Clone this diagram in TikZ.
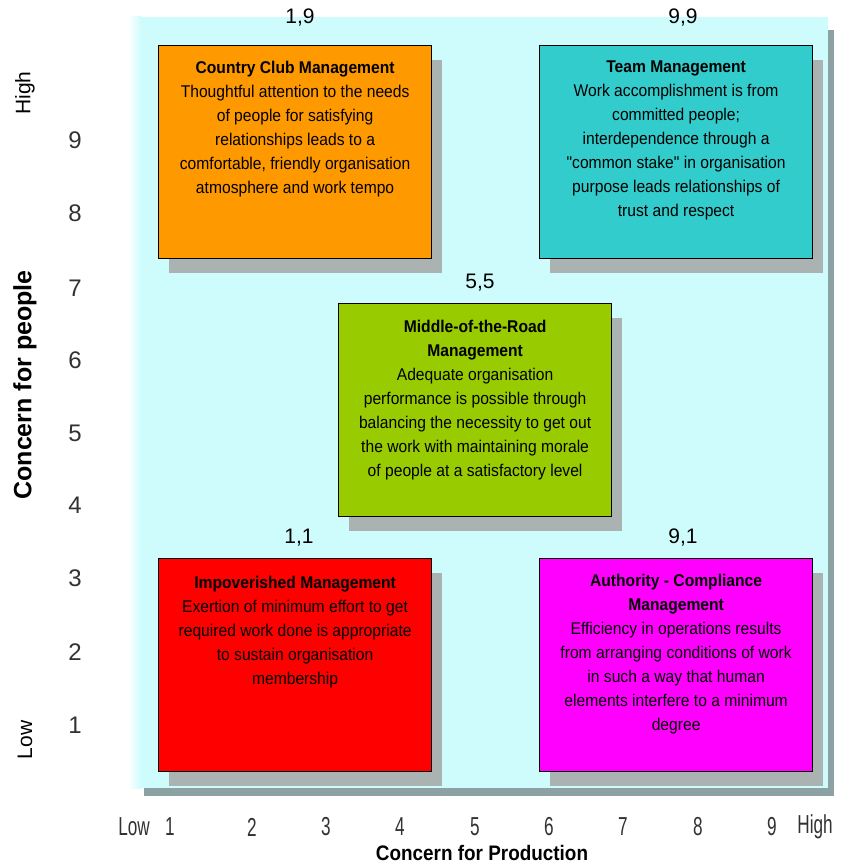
\documentclass[tikz,border=0pt]{standalone}
\usepackage{fontspec}
\setmainfont{Liberation Sans}
\newfontfamily\boxfont{Liberation Sans}[FakeStretch=0.92]
\newfontfamily\narrowfont{Liberation Sans}[FakeStretch=0.66]
\newfontfamily\prodfont{Liberation Sans}[FakeStretch=0.9]
\usetikzlibrary{calc}

\definecolor{panel}{RGB}{206,252,252}
\definecolor{panelshadow}{RGB}{140,162,162}
\definecolor{boxshadow}{RGB}{170,178,178}
\definecolor{cclub}{RGB}{255,153,0}
\definecolor{team}{RGB}{51,204,204}
\definecolor{middle}{RGB}{153,204,0}
\definecolor{impov}{RGB}{255,0,0}
\definecolor{auth}{RGB}{255,0,255}
\definecolor{axisgray}{RGB}{50,50,50}

\tikzset{
  gridbox/.style={draw=black, line width=1.2pt, anchor=north west,
    minimum width=273, minimum height=213, inner sep=0pt},
  boxtext/.style={anchor=north, align=center, inner sep=0pt,
    font=\boxfont\fontsize{17}{24}\selectfont},
  coordlabel/.style={inner sep=0pt, font=\fontsize{21}{21}\selectfont},
  ynum/.style={inner sep=0pt, text=axisgray, font=\fontsize{24}{24}\selectfont},
  xnum/.style={inner sep=0pt, text=axisgray, font=\narrowfont\fontsize{26}{26}\selectfont},
  yword/.style={inner sep=0pt, rotate=90, font=\fontsize{21}{21}\selectfont},
}

% shadow + coloured box
\newcommand\stylebox[4]{% name, x, y, colour
  \fill[boxshadow] (#2+11,#3+15) rectangle (#2+284,#3+228);
  \node[gridbox, fill=#4] (#1) at (#2,#3) {};
}

\begin{document}
\begin{tikzpicture}[x=1pt, y=-1pt]
  \useasboundingbox (0,0) rectangle (849,867);
  \fill[white] (0,0) rectangle (849,867);

  % background panel with its drop shadow
  \fill[panelshadow] (144,788) rectangle (834,796);
  \fill[panelshadow] (828,30) rectangle (834,796);
  \fill[panel] (140,17) rectangle (828,788);
  \shade[left color=white, right color=panel] (128,17) rectangle (141,788);

  % the five management styles
  \stylebox{cc}{158}{45}{cclub}
  \stylebox{tm}{539}{45}{team}
  \stylebox{mr}{338}{303}{middle}
  \stylebox{im}{158}{558}{impov}
  \stylebox{ac}{539}{558}{auth}

  \node[boxtext] (cc-t) at ($(cc.north)+(0,16)$) {%
    \textbf{Country Club Management}\\
    Thoughtful attention to the needs\\
    of people for satisfying\\
    relationships leads to a\\
    comfortable, friendly organisation\\
    atmosphere and work tempo};
  \node[boxtext] (tm-t) at ($(tm.north)+(0,16)$) {%
    \textbf{Team Management}\\
    Work accomplishment is from\\
    committed people;\\
    interdependence through a\\
    "common stake" in organisation\\
    purpose leads relationships of\\
    trust and respect};
  \node[boxtext] (mr-t) at ($(mr.north)+(0,17)$) {%
    \textbf{Middle-of-the-Road}\\
    \textbf{Management}\\
    Adequate organisation\\
    performance is possible through\\
    balancing the necessity to get out\\
    the work with maintaining morale\\
    of people at a satisfactory level};
  \node[boxtext] (im-t) at ($(im.north)+(0,18)$) {%
    \textbf{Impoverished Management}\\
    Exertion of minimum effort to get\\
    required work done is appropriate\\
    to sustain organisation\\
    membership};
  \node[boxtext] (ac-t) at ($(ac.north)+(0,16)$) {%
    \textbf{Authority - Compliance}\\
    \textbf{Management}\\
    Efficiency in operations results\\
    from arranging conditions of work\\
    in such a way that human\\
    elements interfere to a minimum\\
    degree};

  % grid coordinates of each style
  \node[coordlabel] (c19) at (300,18) {1,9};
  \node[coordlabel] (c99) at (683,18) {9,9};
  \node[coordlabel] (c55) at (480,283) {5,5};
  \node[coordlabel] (c11) at (299,538) {1,1};
  \node[coordlabel] (c91) at (683,538) {9,1};

  % vertical axis
  \foreach \n/\yy in {9/140,8/213,7/288,6/360,5/433,4/505,3/578,2/652,1/725}
    \node[ynum] (y\n) at (75,\yy) {\n};
  \node[yword] (yhigh) at (25,93) {High};
  \node[yword] (ylow) at (25,740) {Low};
  \node[inner sep=0pt, rotate=90, font=\bfseries\fontsize{25}{25}\selectfont]
    (ytitle) at (25,385) {Concern for people};

  % horizontal axis
  \node[xnum] (xlow) at (134,827) {Low};
  \foreach \n/\xx in {1/170,2/252,3/326,4/400,5/475,6/549,7/623,8/698,9/772}
    \node[xnum] (x\n) at (\xx,827) {\n};
  \node[xnum] (xhigh) at (815,827) {High};
  \node[inner sep=0pt, font=\prodfont\bfseries\fontsize{21}{21}\selectfont]
    (xtitle) at (482,853) {Concern for Production};
\end{tikzpicture}
\end{document}
